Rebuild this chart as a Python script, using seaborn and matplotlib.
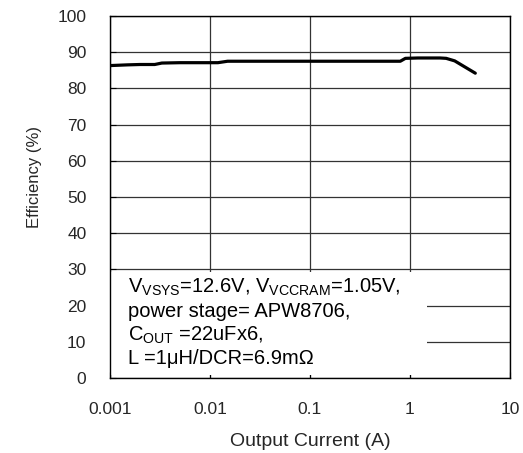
import matplotlib
matplotlib.use("Agg")
import matplotlib.pyplot as plt
import seaborn as sns
import pandas as pd
from matplotlib.patches import Rectangle

current = [0.001, 0.0015, 0.002, 0.0028, 0.0033, 0.005, 0.008, 0.012, 0.015, 0.03, 0.1, 0.3, 0.8, 0.9, 1.2, 2.0, 2.3, 2.8, 3.5, 4.5]
efficiency = [86.3, 86.5, 86.6, 86.6, 87.0, 87.1, 87.1, 87.1, 87.5, 87.5, 87.5, 87.5, 87.5, 88.3, 88.4, 88.4, 88.3, 87.6, 86.0, 84.2]

x_ticks = [0.001, 0.01, 0.1, 1, 10]
x_labels = ["0.001", "0.01", "0.1", "1", "10"]
y_ticks = [0, 10, 20, 30, 40, 50, 60, 70, 80, 90, 100]

sns.set_theme(style="white")
plt.rcParams['font.family'] = ['Liberation Sans', 'DejaVu Sans']
plt.rcParams['mathtext.fontset'] = 'custom'
plt.rcParams['mathtext.rm'] = 'Liberation Sans'
plt.rcParams['mathtext.it'] = 'Liberation Sans'

fig = plt.figure(figsize=(5.23, 4.53), dpi=100)
ax = fig.add_axes([0.2103, 0.1656, 0.7648, 0.7991])

df = pd.DataFrame({"I": current, "E": efficiency})
sns.lineplot(data=df, x="I", y="E", ax=ax, color="black", linewidth=2.3, zorder=3)

ax.set_xscale("log")
ax.set_xlim(0.001, 10)
ax.set_ylim(0, 100)
ax.set_xticks(x_ticks)
ax.set_xticklabels(x_labels)
ax.set_yticks(y_ticks)
ax.minorticks_off()
ax.grid(True, color="#333333", linewidth=0.9)
for s in ax.spines.values():
    s.set_color("black")
    s.set_linewidth(1.0)
ax.tick_params(axis="both", direction="in", length=4, width=0.8, color="black",
               labelsize=12.5, bottom=True, left=True)
ax.tick_params(axis="x", pad=17)
ax.tick_params(axis="y", pad=17)
ax.set_xlabel("Output Current (A)", fontsize=14, labelpad=12)
ax.set_ylabel("Efficiency (%)", fontsize=12, labelpad=12)
ax.yaxis.set_label_coords(-0.17, 0.554)

ax.add_patch(Rectangle((0.003, 0.008), 0.79, 0.285, transform=ax.transAxes,
                       facecolor="white", edgecolor="none", zorder=2.5))
lines = [r"V$_{\mathrm{VSYS}}$=12.6V, V$_{\mathrm{VCCRAM}}$=1.05V,",
         "power stage= APW8706,",
         r"C$_{\mathrm{OUT}}$ =22uFx6,",
         "L =1μH/DCR=6.9mΩ"]
ys = [0.25, 0.183, 0.117, 0.055]
for t, yy in zip(lines, ys):
    ax.text(0.045, yy, t, transform=ax.transAxes, fontsize=14.5, va="center",
            ha="left", color="black", zorder=4)

fig.savefig("out.png", dpi=100)
